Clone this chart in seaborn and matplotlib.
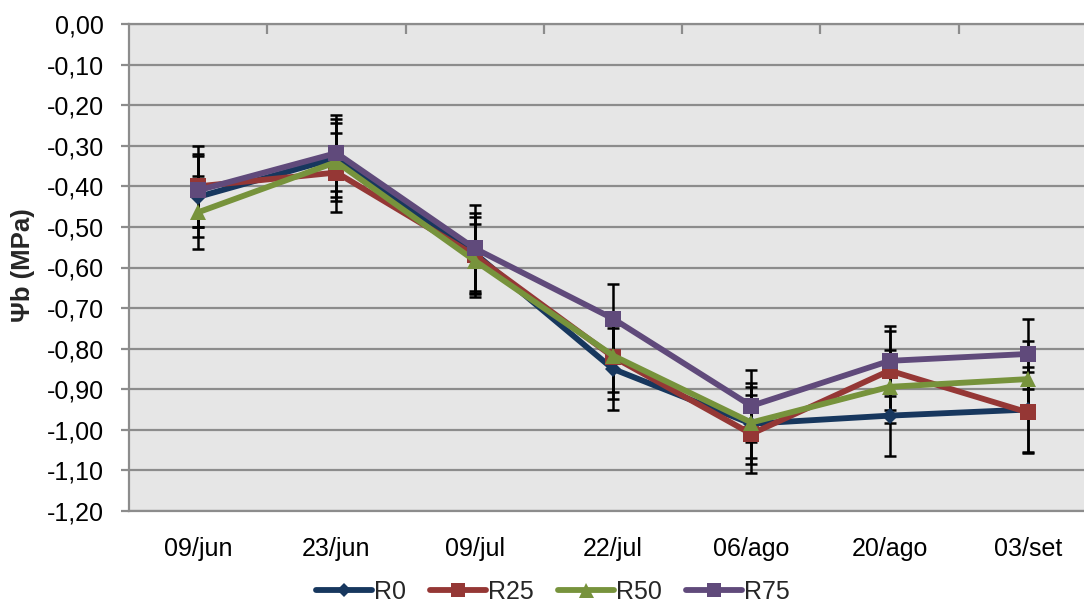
import numpy as np
import pandas as pd
import matplotlib
matplotlib.use("Agg")
import matplotlib.pyplot as plt
from matplotlib.ticker import FuncFormatter, FixedLocator
import seaborn as sns

dates = ["09/jun", "23/jun", "09/jul", "22/jul", "06/ago", "20/ago", "03/set"]
series = ["R0", "R25", "R50", "R75"]
r0 = [-0.426, -0.330, -0.565, -0.850, -0.985, -0.965, -0.950]
r25 = [-0.400, -0.366, -0.570, -0.820, -1.010, -0.854, -0.957]
r50 = [-0.464, -0.340, -0.583, -0.817, -0.982, -0.894, -0.875]
r75 = [-0.410, -0.318, -0.553, -0.726, -0.941, -0.830, -0.813]
e0 = [0.100, 0.097, 0.100, 0.100, 0.100, 0.100, 0.105]
e25 = [0.100, 0.097, 0.094, 0.086, 0.096, 0.097, 0.100]
e50 = [0.090, 0.095, 0.090, 0.106, 0.087, 0.090, 0.095]
e75 = [0.090, 0.093, 0.106, 0.086, 0.089, 0.087, 0.086]

values = {"R0": r0, "R25": r25, "R50": r50, "R75": r75}
errors = {"R0": e0, "R25": e25, "R50": e50, "R75": e75}
colors = {"R0": "#17375E", "R25": "#953735", "R50": "#77933C", "R75": "#604A7B"}
markers = {"R0": "D", "R25": "s", "R50": "^", "R75": "s"}

rows = []
for s in series:
    for i, d in enumerate(dates):
        rows.append({"x": i, "date": d, "serie": s, "v": values[s][i]})
df = pd.DataFrame(rows)

sns.set_theme(style="white")
plt.rcParams["font.family"] = ["Liberation Sans", "DejaVu Sans"]

fig = plt.figure(figsize=(10.84, 6.08), dpi=100)
ax = fig.add_axes([129 / 1084, 1 - 511 / 608, (1097 - 129) / 1084, (511 - 24) / 608])
ax.set_facecolor("#E6E6E6")

# error bars (behind lines)
for s in series:
    ax.errorbar(range(len(dates)), values[s], yerr=errors[s], fmt="none",
                ecolor="black", elinewidth=1.8, capsize=4.5, capthick=1.8, zorder=2)

sns.lineplot(data=df, x="x", y="v", hue="serie", style="serie",
             hue_order=series, style_order=series, palette=colors,
             markers=markers, dashes=False, linewidth=4.2, markersize=11,
             markeredgewidth=0, ax=ax, zorder=3, legend=True)
for ln in ax.lines:
    if ln.get_marker() == "D":
        ln.set_markersize(8)
    elif ln.get_marker() == "^":
        ln.set_markersize(12)

ax.set_xlim(-0.5, 6.5)
ax.set_ylim(-1.2, 0.0)
ax.yaxis.set_major_locator(FixedLocator(np.round(np.arange(-1.2, 0.001, 0.1), 2)))

def fmt(v, pos):
    s = f"{v:.2f}".replace(".", ",")
    if s == "-0,00":
        s = "0,00"
    return s

ax.yaxis.set_major_formatter(FuncFormatter(fmt))
ax.set_xticks(range(len(dates)))
ax.set_xticklabels(dates)
ax.set_xticks(np.arange(0.5, 6.5, 1.0), minor=True)

grid_c = "#8C8C8C"
ax.grid(axis="y", color=grid_c, linewidth=1.6, zorder=0)
ax.set_axisbelow(True)
for side in ["left", "bottom", "top"]:
    ax.spines[side].set_visible(True)
    ax.spines[side].set_color(grid_c)
    ax.spines[side].set_linewidth(1.6)
ax.spines["right"].set_visible(False)

ax.tick_params(axis="y", which="major", left=True, direction="out", length=6,
               width=1.6, color=grid_c, labelsize=18, pad=12, labelcolor="black")
ax.tick_params(axis="x", which="major", bottom=False, top=False, labelsize=18,
               pad=13, labelcolor="black")
ax.tick_params(axis="x", which="minor", bottom=False, top=True, direction="in",
               length=7, width=1.6, color=grid_c)

ax.set_xlabel("")
ax.set_ylabel("Ψb (MPa)", fontsize=18.5, fontweight="bold")
ax.yaxis.set_label_coords(-0.097, 0.505)

handles, labels = ax.get_legend_handles_labels()
ax.legend(handles=handles, labels=labels, loc="center",
          bbox_to_anchor=(0.51, 0.026), bbox_transform=fig.transFigure,
          ncol=4, frameon=False, fontsize=18, handlelength=2.25,
          handletextpad=0.08, columnspacing=0.95, markerscale=0.9)

fig.savefig("out.png", dpi=100)
